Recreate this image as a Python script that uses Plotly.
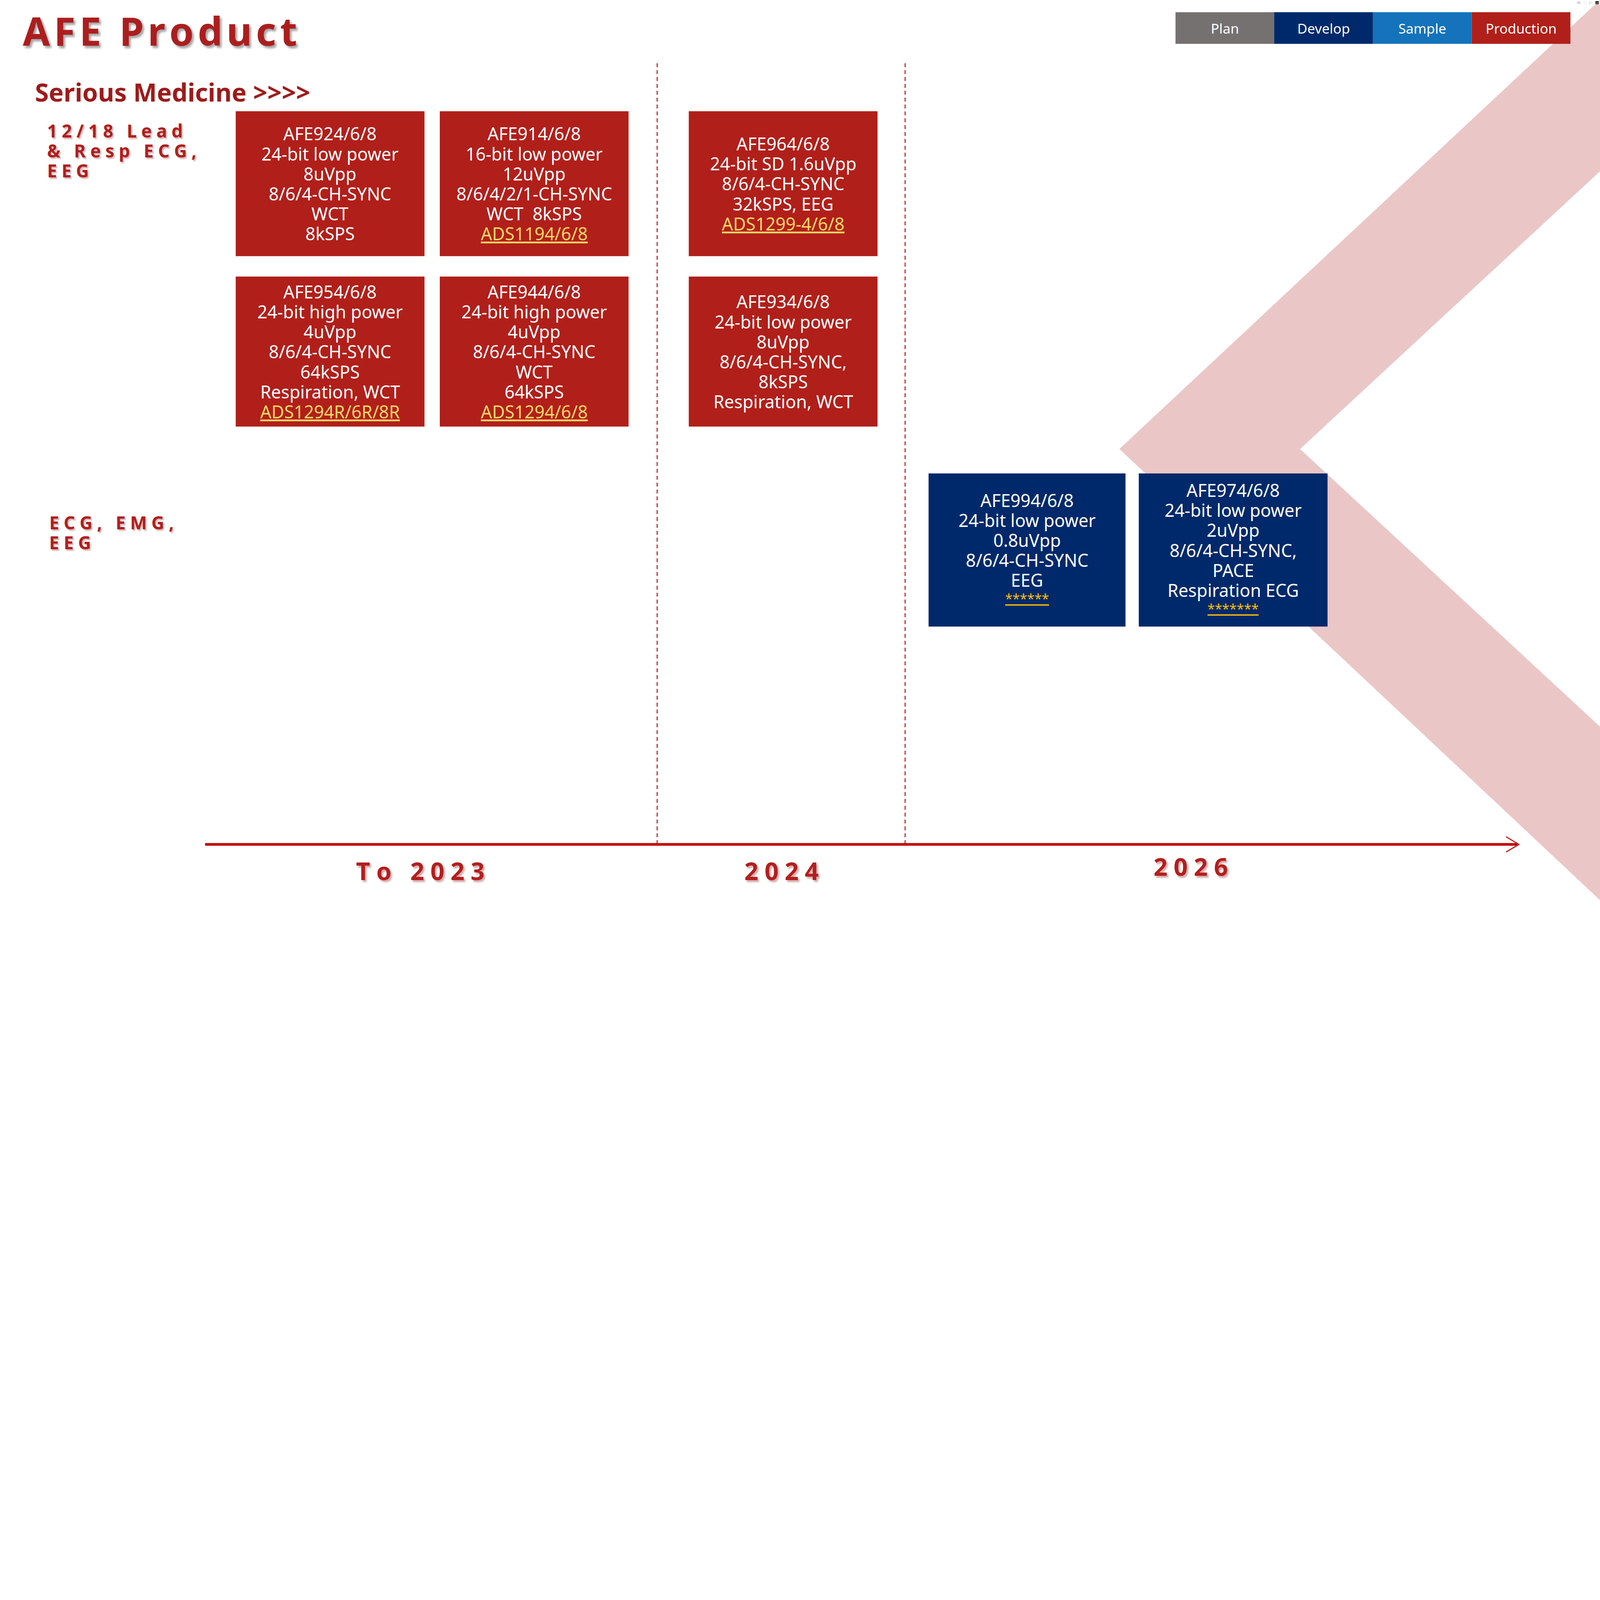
import plotly.graph_objects as go

# ---- data -------------------------------------------------------------
status_names = ["Plan", "Develop", "Sample", "Production"]
status_colors = ["#767171", "#00296B", "#1473BA", "#B11F1A"]

periods = ["To 2023", "2024", "2026"]

lane_labels = [["12/18 Lead", "& Resp ECG,", "EEG"], ["ECG, EMG,", "EEG"]]

card_name = ["AFE924/6/8", "AFE914/6/8", "AFE954/6/8", "AFE944/6/8",
             "AFE964/6/8", "AFE934/6/8", "AFE994/6/8", "AFE974/6/8"]
card_specs = [
    ["24-bit low power", "8uVpp", "8/6/4-CH-SYNC", "WCT", "8kSPS"],
    ["16-bit low power", "12uVpp", "8/6/4/2/1-CH-SYNC", "WCT\u00a0 8kSPS"],
    ["24-bit high power", "4uVpp", "8/6/4-CH-SYNC", "64kSPS", "Respiration, WCT"],
    ["24-bit high power", "4uVpp", "8/6/4-CH-SYNC", "WCT", "64kSPS"],
    ["24-bit SD 1.6uVpp", "8/6/4-CH-SYNC", "32kSPS, EEG"],
    ["24-bit low power", "8uVpp", "8/6/4-CH-SYNC,", "8kSPS", "Respiration, WCT"],
    ["24-bit low power", "0.8uVpp", "8/6/4-CH-SYNC", "EEG"],
    ["24-bit low power", "2uVpp", "8/6/4-CH-SYNC,", "PACE", "Respiration ECG"],
]
card_ref = ["", "ADS1194/6/8", "ADS1294R/6R/8R", "ADS1294/6/8",
            "ADS1299-4/6/8", "", "******", "*******"]
card_status = ["Production", "Production", "Production", "Production",
               "Production", "Production", "Develop", "Develop"]
card_period = ["To 2023", "To 2023", "To 2023", "To 2023", "2024", "2024", "2026", "2026"]
card_slot = [0, 1, 0, 1, 0, 0, 0, 1]
card_row = [0, 0, 1, 1, 0, 1, 2, 2]

# ---- layout geometry (slide units, 1568 x 882) --------------------------
W, H = 1568, 882
FIG_W, FIG_H = 7680, 4320
S = FIG_W / W

slot_x = {("To 2023", 0): (231, 416), ("To 2023", 1): (431, 616),
          ("2024", 0): (675, 860),
          ("2026", 0): (910, 1103), ("2026", 1): (1116, 1301)}
row_y = {0: (109, 251), 1: (271, 418), 2: (464, 614)}
period_cx = {"To 2023": 412, "2024": 766, "2026": 1167}
period_cy = {"To 2023": 853, "2024": 853, "2026": 849}
dividers = [644, 887]
lane_xy = [(46, 128), (48, 512)]

TXT = "Noto Sans"
PITCH = 19.6


def fs(v):
    return v * S


def track(s, sp="\u2009"):
    return sp.join(list(s))


fig = go.Figure()
fig.add_trace(go.Scatter(x=[None], y=[None], showlegend=False, hoverinfo="skip"))

shapes = []
ann = []

# background chevron
shapes.append(dict(type="path", layer="below", line_width=0, fillcolor="#EBC6C6",
                   path="M 1097 440 L 1570 -2 L 1570 166 L 1274 440 L 1570 714 L 1570 884 Z"))

# period dividers
for dx in dividers:
    shapes.append(dict(type="line", layer="below", x0=dx, x1=dx, y0=62, y1=827,
                       line=dict(color="#C00000", width=4.5, dash="19px,14px")))

# time axis with arrow
shapes.append(dict(type="line", x0=201, x1=1487, y0=827.5, y1=827.5,
                   line=dict(color="#C00000", width=13)))
shapes.append(dict(type="path", path="M 1476 820 L 1488.5 827.5 L 1476 835",
                   line=dict(color="#C00000", width=5)))

for p in periods:
    ann.append(dict(x=period_cx[p], y=period_cy[p], text=track(p, "\u2005"),
                    font=dict(family=TXT, size=fs(24), color="#B41E1E", weight=700,
                              shadow="4px 5px 4px rgba(120,0,0,0.35)")))

# legend
for i, (nm, col) in enumerate(zip(status_names, status_colors)):
    x0 = 1152 + i * 96.75
    shapes.append(dict(type="rect", x0=x0, x1=x0 + 96.75, y0=12, y1=43,
                       fillcolor=col, line_width=0))
    ann.append(dict(x=x0 + 48.4, y=27.5, text=nm,
                    font=dict(family=TXT, size=fs(13.5), color="white")))

# titles
ann.append(dict(x=22, y=30, xanchor="left", text=track("AFE Product", "\u200a"),
                font=dict(family=TXT, size=fs(38.5), color="#AC1E1E", weight=700,
                          shadow="5px 6px 5px rgba(0,0,0,0.35)")))
ann.append(dict(x=34, y=90, xanchor="left", text="Serious Medicine >>>>",
                font=dict(family=TXT, size=fs(24.5), color="#9E1B1B", weight=700)))

for (lx, ly), lines in zip(lane_xy, lane_labels):
    for k, ln in enumerate(lines):
        ann.append(dict(x=lx, y=ly + k * PITCH, xanchor="left", text=track(ln, "\u2005"),
                        font=dict(family=TXT, size=fs(17.5), color="#B01E1E", weight=700,
                                  shadow="3px 4px 3px rgba(120,0,0,0.3)")))

# product cards
color_of = dict(zip(status_names, status_colors))
for i in range(len(card_name)):
    x0, x1 = slot_x[(card_period[i], card_slot[i])]
    y0, y1 = row_y[card_row[i]]
    shapes.append(dict(type="rect", x0=x0, x1=x1, y0=y0, y1=y1,
                       fillcolor=color_of[card_status[i]], line_width=0))
    lines = [(card_name[i], "white", 17.2)] + [(t, "white", 17.2) for t in card_specs[i]]
    if card_ref[i]:
        if card_ref[i].startswith("*"):
            lines.append(("<u>" + card_ref[i] + "</u>", "#FFC000", 13))
        else:
            lines.append(("<u>" + card_ref[i] + "</u>", "#FFD966", 17.2))
    cx = (x0 + x1) / 2
    cy = (y0 + y1) / 2
    n = len(lines)
    for k, (t, c, sz) in enumerate(lines):
        yy = cy + (k - (n - 1) / 2) * PITCH
        if sz < 16:
            yy -= 1.5
        ann.append(dict(x=cx, y=yy, text=t, font=dict(family=TXT, size=fs(sz), color=c)))

for a in ann:
    a.setdefault("xanchor", "center")
    a.update(xref="x", yref="y", yanchor="middle", showarrow=False, borderpad=0)

fig.update_layout(
    width=FIG_W, height=FIG_H,
    margin=dict(l=0, r=0, t=0, b=0),
    paper_bgcolor="white", plot_bgcolor="white",
    xaxis=dict(range=[0, W], visible=False, fixedrange=True),
    yaxis=dict(range=[H, 0], visible=False, fixedrange=True),
    shapes=shapes, annotations=ann, showlegend=False,
)

# scale the slide down uniformly if the window is smaller than 7680x4320
fit = ("var gd=document.getElementById('{plot_id}');"
       "document.documentElement.style.margin='0';"
       "document.body.style.margin='0';document.body.style.overflow='hidden';"
       "var k=Math.min(1, window.innerWidth/%d, window.innerHeight/%d);"
       "gd.style.transformOrigin='0 0';gd.style.transform='scale('+k+')';" % (FIG_W, FIG_H))
fig.write_html("out.html", post_script=fit)
